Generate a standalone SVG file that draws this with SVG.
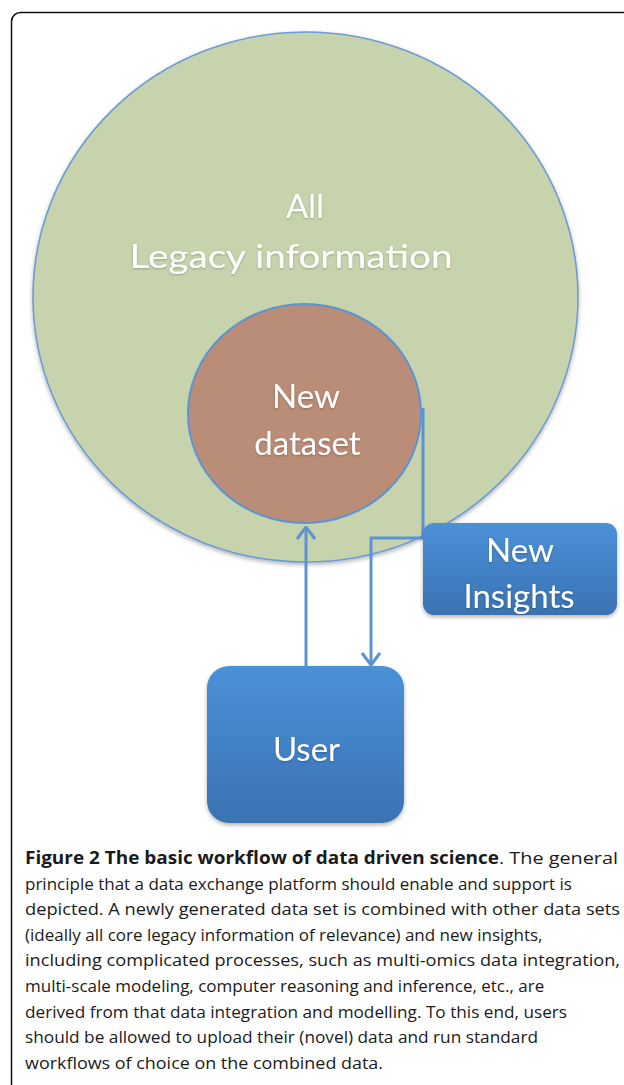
<svg xmlns="http://www.w3.org/2000/svg" width="624" height="1085" viewBox="0 0 624 1085">
  <style>
    .lbl { font-family: Lato, "Open Sans", "Liberation Sans", sans-serif; fill: #ffffff; text-anchor: middle; }
    .big { font-size: 33px; }
    .cap { font-family: "Open Sans", "Noto Sans", "Liberation Sans", sans-serif; font-size: 17px; fill: #1a1a1a; }
    .bold { font-weight: bold; }
    .conn { stroke: #5b93d3; stroke-width: 3; fill: none; }
  </style>
  <defs>
    <linearGradient id="blueGrad" x1="0" y1="0" x2="0" y2="1">
      <stop offset="0" stop-color="#4b91d8"/>
      <stop offset="1" stop-color="#3a72b2"/>
    </linearGradient>
    <filter id="shadow" x="-10%" y="-10%" width="120%" height="130%">
      <feDropShadow dx="0" dy="2" stdDeviation="2" flood-color="#000" flood-opacity="0.3"/>
    </filter>
    <filter id="tshadow" x="-10%" y="-20%" width="120%" height="150%">
      <feDropShadow dx="0" dy="1" stdDeviation="1" flood-color="#000" flood-opacity="0.25"/>
    </filter>
    <marker id="chev" viewBox="0 0 14 20" refX="13" refY="10" markerWidth="14" markerHeight="20" markerUnits="userSpaceOnUse" orient="auto">
      <path d="M1,1 L13,10 L1,19" fill="none" stroke="#5b93d3" stroke-width="3"/>
    </marker>
  </defs>

  <rect x="0" y="0" width="624" height="1085" fill="#ffffff"/>
  <rect x="11.5" y="12.5" width="700" height="1200" rx="9" fill="none" stroke="#111" stroke-width="1.5"/>

  <g id="legacy">
    <ellipse cx="305.5" cy="297" rx="272.5" ry="265" fill="#c7d3ac" stroke="#6c9cd4" stroke-width="1.6" filter="url(#shadow)"/>
    <text class="lbl big" x="305" y="218" filter="url(#tshadow)">All</text>
    <text class="lbl big" x="291" y="268" textLength="323" lengthAdjust="spacingAndGlyphs" filter="url(#tshadow)">Legacy information</text>
  </g>

  <g id="dataset">
    <ellipse cx="304.5" cy="413.5" rx="116.5" ry="109.5" fill="#b98d77" stroke="#5b93d3" stroke-width="2"/>
    <text class="lbl big" x="306" y="408" filter="url(#tshadow)">New</text>
    <text class="lbl big" x="307.5" y="455" filter="url(#tshadow)">dataset</text>
  </g>

  <g id="connectors">
    <path class="conn" d="M306,666 L306,527" marker-end="url(#chev)"/>
    <path class="conn" d="M423,408 L423,538 L371,538 L371,665" marker-end="url(#chev)"/>
  </g>

  <g id="insights">
    <rect x="423" y="523" width="194" height="92" rx="11" fill="url(#blueGrad)" filter="url(#shadow)"/>
    <text class="lbl big" x="520" y="562" filter="url(#tshadow)">New</text>
    <text class="lbl big" x="519" y="608" filter="url(#tshadow)">Insights</text>
  </g>

  <g id="user">
    <rect x="207" y="666" width="197" height="157" rx="22" fill="url(#blueGrad)" filter="url(#shadow)"/>
    <text class="lbl big" x="306.5" y="761" filter="url(#tshadow)">User</text>
  </g>

  <g id="caption">
    <text class="cap" y="864"><tspan class="bold" x="25" textLength="474" lengthAdjust="spacingAndGlyphs">Figure 2 The basic workflow of data driven science</tspan><tspan x="499" textLength="119" lengthAdjust="spacingAndGlyphs">. The general</tspan></text>
    <text class="cap" x="25" y="889.6">principle that a data exchange platform should enable and support is</text>
    <text class="cap" x="25" y="915.2" textLength="595" lengthAdjust="spacingAndGlyphs">depicted. A newly generated data set is combined with other data sets</text>
    <text class="cap" x="25" y="940.8">(ideally all core legacy information of relevance) and new insights,</text>
    <text class="cap" x="25" y="966.4" textLength="595" lengthAdjust="spacingAndGlyphs">including complicated processes, such as multi-omics data integration,</text>
    <text class="cap" x="25" y="992">multi-scale modeling, computer reasoning and inference, etc., are</text>
    <text class="cap" x="25" y="1017.6" textLength="542" lengthAdjust="spacingAndGlyphs">derived from that data integration and modelling. To this end, users</text>
    <text class="cap" x="25" y="1043.2" textLength="513" lengthAdjust="spacingAndGlyphs">should be allowed to upload their (novel) data and run standard</text>
    <text class="cap" x="25" y="1068.8" textLength="358" lengthAdjust="spacingAndGlyphs">workflows of choice on the combined data.</text>
  </g>
</svg>
